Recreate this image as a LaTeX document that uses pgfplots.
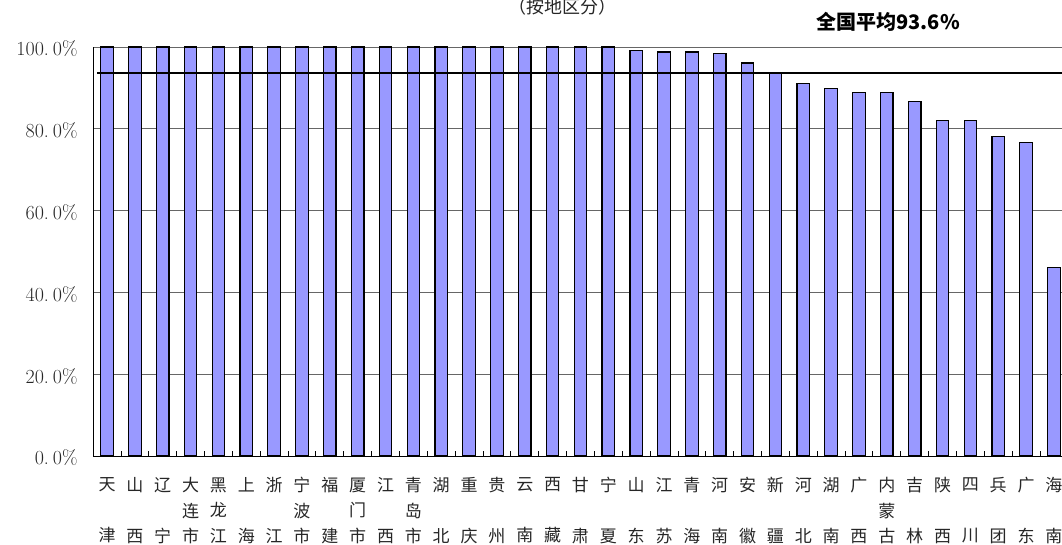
\documentclass[border=0pt]{standalone}
\usepackage{fontspec}
\usepackage{pgfplots}
\pgfplotsset{compat=1.18}
\newfontfamily\cjk{Noto Sans CJK SC}
\definecolor{barblue}{RGB}{153,153,255}
\newcommand{\two}[2]{#1\\\mbox{}\\#2}
\newcommand{\three}[3]{#1\\#2\\#3}
\begin{document}
\begin{tikzpicture}[x=1pt,y=1pt]
\useasboundingbox (0,0) rectangle (1062,544);
\begin{axis}[
  at={(93.1pt,88pt)}, anchor=south west,
  scale only axis, width=968.9pt, height=409pt,
  xmin=-0.5, xmax=34.29, ymin=0, ymax=100,
  clip=false,
  axis lines=left,
  axis line style={-, black, line width=1pt},
  ytick={0,20,40,60,80,100},
  yticklabels={0.\kern4pt0\%,20.\kern4pt0\%,40.\kern4pt0\%,60.\kern4pt0\%,80.\kern4pt0\%,100.\kern4pt0\%},
  yticklabel style={font=\fontsize{20}{22}\selectfont, anchor=east, xshift=-12pt, yshift=-2pt, text=black!85},
  ymajorgrids,
  grid style={black!60, line width=0.9pt},
  major tick length=0pt,
  xtick={0,...,34},
  minor xtick={0.5,1.5,...,33.5},
  minor tick length=5pt,
  tick align=inside,
  minor tick style={black, line width=0.9pt},
  xticklabels={\two{天}{津},\two{山}{西},\two{辽}{宁},\three{大}{连}{市},\three{黑}{龙}{江},\two{上}{海},\two{浙}{江},\three{宁}{波}{市},\two{福}{建},\three{厦}{门}{市},\two{江}{西},\three{青}{岛}{市},\two{湖}{北},\two{重}{庆},\two{贵}{州},\two{云}{南},\two{西}{藏},\two{甘}{肃},\two{宁}{夏},\two{山}{东},\two{江}{苏},\two{青}{海},\two{河}{南},\two{安}{徽},\two{新}{疆},\two{河}{北},\two{湖}{南},\two{广}{西},\three{内}{蒙}{古},\two{吉}{林},\two{陕}{西},\two{四}{川},\two{兵}{团},\two{广}{东},\two{海}{南}},
  xticklabel style={font=\cjk\fontsize{17}{25.5}\selectfont, align=center, anchor=north, yshift=-18pt, text=black!85},
]
\addplot[ybar, bar width=12.5pt, fill=barblue, draw=black, line width=1.2pt] coordinates {
(0,100) (1,100) (2,100) (3,100) (4,100) (5,100) (6,100) (7,100) (8,100) (9,100)
(10,100) (11,100) (12,100) (13,100) (14,100) (15,100) (16,100) (17,100) (18,100)
(19,99.2) (20,98.8) (21,98.8) (22,98.4) (23,96.1) (24,93.7) (25,91.0) (26,89.8)
(27,88.8) (28,88.8) (29,86.7) (30,82.1) (31,82.1) (32,78.2) (33,76.7) (34,46.0)
};
\addplot[black, line width=2.4pt, no markers] coordinates {(-0.35,93.6) (34.29,93.6)};
\end{axis}
\node[font=\cjk\fontsize{18}{20}\selectfont, text=black!85] at (562,537) {（按地区分）};
\node[font=\cjk\bfseries\fontsize{20}{24}\selectfont, anchor=west] at (813,522) {全国平均93.6\%};
\end{tikzpicture}
\end{document}
